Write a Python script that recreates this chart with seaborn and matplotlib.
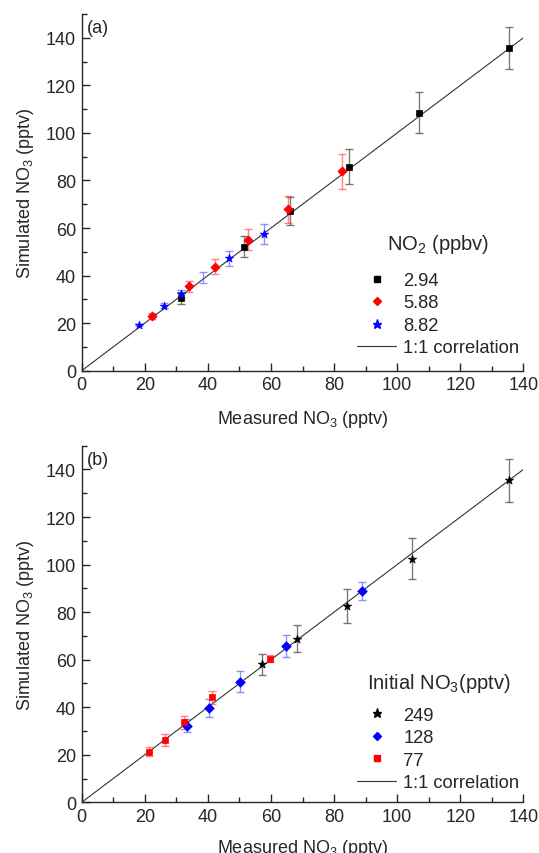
import numpy as np
import pandas as pd
import matplotlib
matplotlib.use("Agg")
import matplotlib.pyplot as plt
from matplotlib.lines import Line2D
from matplotlib.ticker import MultipleLocator
import seaborn as sns

# ---------------- data: panel (a) ----------------
a_no2_labels = ["2.94", "5.88", "8.82"]
a_x_294 = [31.5, 51.6, 66.0, 84.6, 106.9, 135.3]
a_y_294 = [30.6, 52.2, 67.1, 85.7, 108.4, 135.7]
a_e_294 = [2.5, 4.4, 6.0, 7.4, 8.6, 8.9]
a_x_588 = [22.2, 34.0, 42.1, 52.8, 65.3, 82.6]
a_y_588 = [22.9, 35.4, 43.8, 55.1, 67.8, 83.8]
a_e_588 = [1.2, 2.2, 3.2, 4.4, 5.6, 7.2]
a_x_882 = [18.1, 26.2, 31.5, 46.8, 57.8]
a_y_882 = [19.2, 27.4, 32.3, 47.3, 57.4]
a_e_882 = [0.5, 1.0, 1.8, 3.2, 4.2]
# error bar with no visible marker
a_x_882_bar = [38.6]
a_y_882_bar = [39.3]
a_e_882_bar = [2.3]

# ---------------- data: panel (b) ----------------
b_init_labels = ["249", "128", "77"]
b_x_249 = [57.2, 68.3, 84.2, 104.8, 135.5]
b_y_249 = [58.0, 68.8, 82.7, 102.4, 135.4]
b_e_249 = [4.4, 5.6, 7.2, 8.6, 9.0]
b_x_128 = [33.3, 40.4, 50.2, 64.8, 88.9]
b_y_128 = [32.2, 39.5, 50.8, 65.7, 88.9]
b_e_128 = [2.8, 3.8, 4.4, 4.6, 3.9]
b_x_77 = [21.2, 26.4, 32.4, 41.3, 59.8]
b_y_77 = [21.3, 26.3, 33.6, 44.2, 60.4]
b_e_77 = [1.8, 2.5, 2.8, 2.7, 1.5]

sns.set_style("ticks")
plt.rcParams["font.family"] = ["Liberation Sans", "DejaVu Sans"]
plt.rcParams["mathtext.fontset"] = "custom"
plt.rcParams["mathtext.rm"] = "Liberation Sans"
plt.rcParams["mathtext.it"] = "Liberation Sans:italic"
plt.rcParams["mathtext.bf"] = "Liberation Sans:bold"

fig = plt.figure(figsize=(5.39, 8.54), dpi=100)
axA = fig.add_axes([0.1516, 0.5648, 0.8194, 0.4176])
axB = fig.add_axes([0.1516, 0.0594, 0.8194, 0.4175])

FS = 13
LFS = 13.2
TFS = 14.5

def draw_series(ax, xs, ys, es, color, marker, size, ecolor):
    df = pd.DataFrame({"x": xs, "y": ys})
    ax.errorbar(xs, ys, yerr=es, fmt="none", ecolor=ecolor, elinewidth=1.0,
                capsize=3, capthick=1.0, zorder=2)
    sns.scatterplot(data=df, x="x", y="y", ax=ax, color=color, marker=marker,
                    s=size, edgecolor=color, linewidth=0.5, zorder=3, legend=False)

def style_axes(ax, tag, xlabelpad):
    ax.plot([0, 140], [0, 140], color="#333333", lw=0.8, zorder=1)
    ax.set_xlim(0, 140)
    ax.set_ylim(0, 150)
    ax.xaxis.set_major_locator(MultipleLocator(20))
    ax.xaxis.set_minor_locator(MultipleLocator(10))
    ax.yaxis.set_major_locator(MultipleLocator(20))
    ax.yaxis.set_minor_locator(MultipleLocator(10))
    ax.tick_params(which="major", direction="in", length=6, width=1, labelsize=FS, pad=4)
    ax.tick_params(which="minor", direction="in", length=3.5, width=1)
    for s in ["top", "right"]:
        ax.spines[s].set_visible(False)
    for s in ["left", "bottom"]:
        ax.spines[s].set_linewidth(1.0)
    ax.set_xlabel("Measured NO$_3$ (pptv)", fontsize=FS, labelpad=xlabelpad)
    ax.set_ylabel("Simulated NO$_3$ (pptv)", fontsize=FS, labelpad=7)
    ax.text(0.012, 0.985, tag, transform=ax.transAxes, fontsize=FS, va="top", ha="left")

# panel (a)
draw_series(axA, a_x_294, a_y_294, a_e_294, "black", "s", 22, (0.3, 0.3, 0.3, 0.75))
draw_series(axA, a_x_588, a_y_588, a_e_588, "red", "D", 22, (1, 0.2, 0.2, 0.6))
draw_series(axA, a_x_882, a_y_882, a_e_882, "blue", "*", 40, (0.3, 0.3, 1, 0.6))
axA.errorbar(a_x_882_bar, a_y_882_bar, yerr=a_e_882_bar, fmt="none", ecolor=(0.3, 0.3, 1, 0.6),
             elinewidth=1.0, capsize=3, capthick=1.0, zorder=2)
style_axes(axA, "(a)", 11)

handlesA = [
    Line2D([], [], ls="none", marker="s", color="black", markersize=4.5),
    Line2D([], [], ls="none", marker="D", color="red", markersize=4.5),
    Line2D([], [], ls="none", marker="*", color="blue", markersize=6.5),
    Line2D([], [], color="#333333", lw=0.8),
]
legA = axA.legend(handlesA, a_no2_labels + ["1:1 correlation"], title="NO$_2$ (ppbv)",
                  loc="lower right", bbox_to_anchor=(1.016, 0.009), frameon=False,
                  fontsize=LFS, title_fontsize=TFS, handlelength=2.1, handletextpad=0.4,
                  labelspacing=0.3, borderaxespad=0.2)
legA._legend_box.sep = 12

# panel (b)
draw_series(axB, b_x_249, b_y_249, b_e_249, "black", "*", 40, (0.3, 0.3, 0.3, 0.75))
draw_series(axB, b_x_128, b_y_128, b_e_128, "blue", "D", 24, (0.3, 0.3, 1, 0.6))
draw_series(axB, b_x_77, b_y_77, b_e_77, "red", "s", 22, (1, 0.2, 0.2, 0.6))
style_axes(axB, "(b)", 9)

handlesB = [
    Line2D([], [], ls="none", marker="*", color="black", markersize=6.5),
    Line2D([], [], ls="none", marker="D", color="blue", markersize=4.5),
    Line2D([], [], ls="none", marker="s", color="red", markersize=4.5),
    Line2D([], [], color="#333333", lw=0.8),
]
legB = axB.legend(handlesB, b_init_labels + ["1:1 correlation"], title="Initial NO$_3$(pptv)",
                  loc="lower right", bbox_to_anchor=(1.016, 0.0), frameon=False,
                  fontsize=LFS, title_fontsize=TFS, handlelength=2.1, handletextpad=0.4,
                  labelspacing=0.3, borderaxespad=0.2)
legB._legend_box.sep = 9

fig.savefig("out.png", dpi=100)
